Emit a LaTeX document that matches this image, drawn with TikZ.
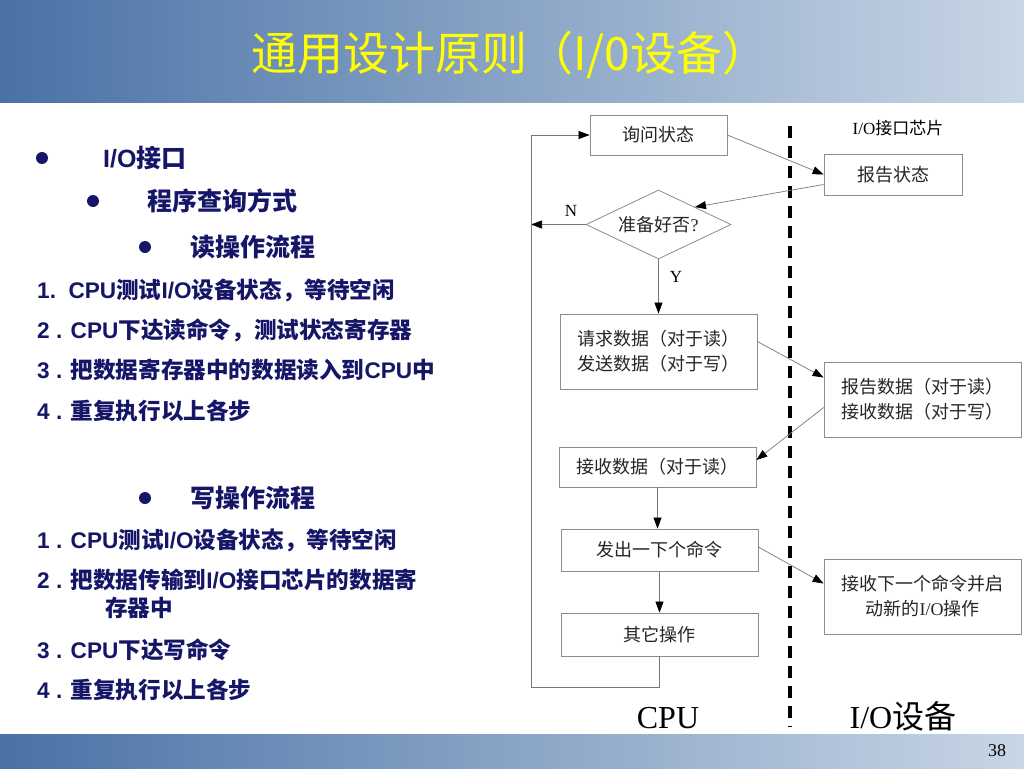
\documentclass[tikz,border=0pt]{standalone}
\usepackage{fontspec}
\setmainfont{Liberation Serif}
\newfontfamily\cjkf{Noto Sans CJK SC}
\newfontfamily\latf{Liberation Sans}
\usetikzlibrary{arrows.meta,shapes.geometric,calc}
\newcommand\zh[1]{{\cjkf #1}}
\newcommand\la[1]{{\latf #1}}
\definecolor{navy}{RGB}{22,22,104}
\definecolor{barL}{RGB}{74,114,166}
\definecolor{barR}{RGB}{200,214,229}
\definecolor{boxc}{RGB}{140,140,140}
\definecolor{linec}{RGB}{120,120,120}
\definecolor{ttl}{RGB}{255,255,0}
\begin{document}
\begin{tikzpicture}[x=1pt,y=-1pt,
  ltxt/.style={anchor=west,inner sep=0,text=navy,font=\fontsize{22.6}{28}\selectfont\bfseries},
  btxt/.style={anchor=west,inner sep=0,text=navy,font=\fontsize{25}{30}\selectfont\bfseries},
  bul/.style={circle,fill=navy,inner sep=0,minimum size=12pt},
  box/.style={draw=boxc,line width=0.8pt,inner sep=0,text=black!85,font=\fontsize{18}{25}\selectfont},
  dia/.style={diamond,shape aspect=2.1,draw=boxc,line width=0.8pt,inner sep=0,text=black!85,font=\fontsize{18}{25}\selectfont,minimum width=145pt,minimum height=69pt},
  arr/.style={draw=linec,line width=0.7pt,-{Triangle[length=11pt,width=8pt,color=black]}},
  lbl/.style={inner sep=0,font=\fontsize{17}{20}\selectfont},
  big/.style={inner sep=0,font=\fontsize{32}{36}\selectfont}]
\useasboundingbox (0,0) rectangle (1024,768);
\fill[white] (0,0) rectangle (1024,768);
\shade[left color=barL,right color=barR] (0,0) rectangle (1024,102);
\shade[left color=barL,right color=barR] (0,734) rectangle (1024,768);
\node[inner sep=0,text=ttl,font=\fontsize{46}{54}\selectfont] (title) at (510,55) {\zh{通用设计原则（I/0设备）}};
\node[inner sep=0,font=\fontsize{18}{20}\selectfont] (pg) at (997,751) {38};

% left text
\node[bul] (b1) at (42,158) {};
\node[btxt] (t1) at (103,158) {\la{I/O}\zh{接口}};
\node[bul] (b2) at (93,201) {};
\node[btxt] (t2) at (147,201) {\zh{程序查询方式}};
\node[bul] (b3) at (145,247) {};
\node[btxt] (t3) at (190,247) {\zh{读操作流程}};
\node[ltxt] (r1) at (37,290) {\la{1.\ \ CPU}\zh{测试}\la{I/O}\zh{设备状态，等待空闲}};
\node[ltxt] (r2) at (37,330) {\la{2 . CPU}\zh{下达读命令，测试状态寄存器}};
\node[ltxt] (r3) at (37,370) {\la{3 . }\zh{把数据寄存器中的数据读入到}\la{CPU}\zh{中}};
\node[ltxt] (r4) at (37,411) {\la{4 . }\zh{重复执行以上各步}};
\node[bul] (b4) at (145,498) {};
\node[btxt] (t4) at (190,498) {\zh{写操作流程}};
\node[ltxt] (w1) at (37,540) {\la{1 . CPU}\zh{测试}\la{I/O}\zh{设备状态，等待空闲}};
\node[ltxt] (w2) at (37,580) {\la{2 . }\zh{把数据传输到}\la{I/O}\zh{接口芯片的数据寄}};
\node[ltxt] (w2b) at (105,608) {\zh{存器中}};
\node[ltxt] (w3) at (37,650) {\la{3 . CPU}\zh{下达写命令}};
\node[ltxt] (w4) at (37,690) {\la{4 . }\zh{重复执行以上各步}};

% flowchart
\node[box,minimum width=137pt,minimum height=40pt] (q) at (658.5,135) {\zh{询问状态}};
\node[box,minimum width=138pt,minimum height=41pt] (r) at (893,174.5) {\zh{报告状态}};
\node[lbl] (chip) at (898,128) {I/O\zh{接口芯片}};
\node[dia] (d) at (658.5,224.5) {\zh{准备好否}?};
\node[box,minimum width=197pt,minimum height=75pt,align=left] (req) at (658.5,351.5) {\zh{请求数据（对于读）}\\\zh{发送数据（对于写）}};
\node[box,minimum width=197pt,minimum height=75pt,align=left] (rep) at (922.5,399.5) {\zh{报告数据（对于读）}\\\zh{接收数据（对于写）}};
\node[box,minimum width=197pt,minimum height=40pt] (recv) at (657.5,467) {\zh{接收数据（对于读）}};
\node[box,minimum width=197pt,minimum height=42pt] (cmd) at (659.5,550) {\zh{发出一下个命令}};
\node[box,minimum width=197pt,minimum height=75pt,align=center] (nxt) at (922.5,596.5) {\zh{接收下一个命令并启}\\\zh{动新的}I/O\zh{操作}};
\node[box,minimum width=197pt,minimum height=43pt] (oth) at (659.5,634.5) {\zh{其它操作}};
\node[lbl] (nl) at (571,211) {N};
\node[lbl] (yl) at (676,277) {Y};
\node[big] (cpu) at (668,718) {CPU};
\node[big] (iod) at (903,716) {I/O\zh{设备}};

\coordinate (lb) at (531,687);
\coordinate (dt) at (790,126);
\coordinate (db) at (790,727);
\draw[line width=3.5pt,dash pattern=on 12pt off 8pt] (dt) -- (db);

\draw[arr] (q.east) -- (r.west);
\draw[arr] ($(r.west)+(0,10)$) -- (d.north east);
\draw[arr] (d.west) -- (d.west -| lb);
\draw[arr] (d.south) -- (req.north);
\draw[arr] ($(req.east)+(0,-10)$) -- ($(rep.west)+(0,-22)$);
\draw[arr] ($(rep.west)+(0,8)$) -- ($(recv.east)+(0,-7)$);
\draw[arr] (recv.south) -- (recv.south |- cmd.north);
\draw[arr] ($(cmd.east)+(0,-3)$) -- ($(nxt.west)+(0,-13)$);
\draw[arr] (cmd.south) -- (oth.north);
\draw[arr] (oth.south) |- (lb) |- (q.west);
\end{tikzpicture}
\end{document}
